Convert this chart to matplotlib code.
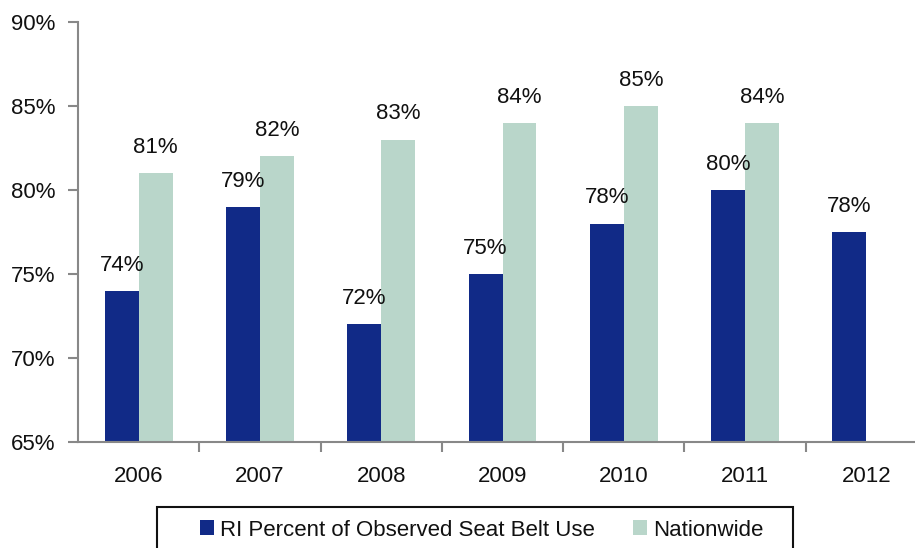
import matplotlib
matplotlib.use("Agg")
import matplotlib.pyplot as plt
from matplotlib.patches import Rectangle
import numpy as np

years = ["2006", "2007", "2008", "2009", "2010", "2011", "2012"]
ri_values = [74, 79, 72, 75, 78, 80, 77.5]
ri_labels = ["74%", "79%", "72%", "75%", "78%", "80%", "78%"]
nat_values = [81, 82, 83, 84, 85, 84]
nat_labels = ["81%", "82%", "83%", "84%", "85%", "84%"]
yticks = [65, 70, 75, 80, 85, 90]

plt.rcParams["font.family"] = ["Liberation Sans", "DejaVu Sans"]

RI_COLOR = "#112a87"
NAT_COLOR = "#b9d6ca"
TXT = "#111111"
FS = 16
W, H = 915, 548

fig = plt.figure(figsize=(W/100, H/100), dpi=100)
ax = fig.add_axes([78/W, 1-442/H, (927-78)/W, (442-22)/H])

x = np.arange(len(years))
w = 0.28
ax.bar(x - w/2, ri_values, width=w, color=RI_COLOR, label="RI Percent of Observed Seat Belt Use")
xn = np.arange(len(nat_values))
ax.bar(xn + w/2, nat_values, width=w, color=NAT_COLOR, label="Nationwide")

for xi, v, lab in zip(x, ri_values, ri_labels):
    ax.annotate(lab, (xi - w/2, v), xytext=(0, 11), textcoords="offset points",
                ha="center", va="bottom", fontsize=FS, color=TXT)
for xi, v, lab in zip(xn, nat_values, nat_labels):
    ax.annotate(lab, (xi + w/2, v), xytext=(0, 11), textcoords="offset points",
                ha="center", va="bottom", fontsize=FS, color=TXT)

ax.set_ylim(65, 90)
ax.set_xlim(-0.5, len(years) - 0.5)
ax.set_yticks(yticks)
ax.set_yticklabels([f"{t}%" for t in yticks], fontsize=FS, color=TXT)
ax.set_xticks(x)
ax.set_xticklabels(years, fontsize=FS, color=TXT)
ax.tick_params(axis="x", length=0, pad=17)
ax.set_xticks(np.arange(len(years) - 1) + 0.5, minor=True)
ax.tick_params(axis="x", which="minor", length=7, width=1.5, color="#888888")
ax.tick_params(axis="y", length=7, width=1.5, color="#888888", pad=9)

for s in ["top", "right"]:
    ax.spines[s].set_visible(False)
for s in ["left", "bottom"]:
    ax.spines[s].set_color("#888888")
    ax.spines[s].set_linewidth(1.5)

# legend frame (extends past the bottom edge as in the reference)
fig.patches.append(Rectangle((157/W, 1-560/H), (793-157)/W, (560-507)/H,
                             transform=fig.transFigure, fill=False,
                             edgecolor=TXT, linewidth=1.5))
leg = fig.legend(loc="center left", bbox_to_anchor=(200/W, 1-530/H), ncol=2,
                 fontsize=FS, frameon=False,
                 handlelength=0.62, handleheight=0.62, handletextpad=0.3,
                 columnspacing=1.7, borderpad=0, borderaxespad=0,
                 labelcolor=TXT)

fig.savefig("out.png", dpi=100)
